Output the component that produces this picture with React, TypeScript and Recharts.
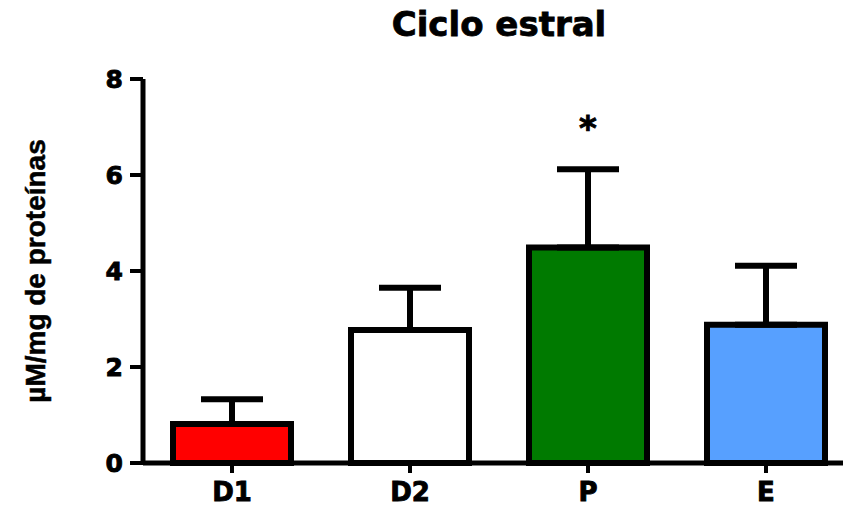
import { BarChart, Bar, XAxis, YAxis, ErrorBar, Cell, ReferenceDot } from 'recharts';

// Values
const phases = ['D1', 'D2', 'P', 'E'];
const means = [0.81, 2.77, 4.49, 2.88];
const sems = [0.52, 0.88, 1.63, 1.23];
const fills = ['#FF0000', '#FFFFFF', '#007A00', '#57A0FF'];
const yTicks = [0, 2, 4, 6, 8];

// significance mark
const starPhase = 'P';
const starLevel = 6.98;

const data = phases.map((name, i) => ({
  name,
  value: means[i],
  err: [0, sems[i]],
}));

const font = '"DejaVu Sans", Verdana, sans-serif';
// a thin outline makes DejaVu look closer to the heavier Verdana Bold
const heavy = { stroke: '#000', strokeWidth: 0.9, paintOrder: 'stroke' as const };

export default function App() {
  return (
    <div
      style={{
        position: 'absolute',
        left: 0,
        top: 0,
        width: 843,
        height: 506,
        overflow: 'hidden',
        background: 'white',
      }}
    >
      <div
        style={{
          position: 'absolute',
          left: 0,
          top: 4,
          width: 998,
          textAlign: 'center',
          fontFamily: font,
          fontWeight: 'bold',
          fontSize: 34,
          color: '#000',
          WebkitTextStroke: '0.8px #000',
        }}
      >
        Ciclo estral
      </div>
      <BarChart
        width={880}
        height={506}
        data={data}
        margin={{ top: 79, right: 25, left: 0, bottom: 0 }}
        barCategoryGap={30}
      >
        <XAxis
          dataKey="name"
          height={43}
          axisLine={{ stroke: '#000', strokeWidth: 5 }}
          tickLine={{ stroke: '#000', strokeWidth: 4 }}
          tickSize={10}
          tickMargin={10}
          tick={{ fill: '#000', fontSize: 26, fontWeight: 'bold', fontFamily: font, ...heavy }}
        />
        <YAxis
          width={143}
          domain={[0, 8]}
          ticks={yTicks}
          interval={0}
          axisLine={{ stroke: '#000', strokeWidth: 5 }}
          tickLine={{ stroke: '#000', strokeWidth: 4 }}
          tickSize={13}
          tickMargin={7}
          tick={{ fill: '#000', fontSize: 25, fontWeight: 'bold', fontFamily: font, ...heavy }}
          label={{
            value: 'µM/mg de proteínas',
            angle: -90,
            position: 'insideLeft',
            offset: 35,
            style: {
              fill: '#000',
              fontSize: 28,
              fontWeight: 'bold',
              fontFamily: '"Liberation Sans", Arial, sans-serif',
              textAnchor: 'middle',
              stroke: '#000',
              strokeWidth: 0.5,
            },
          }}
        />
        <Bar dataKey="value" stroke="#000" strokeWidth={6} isAnimationActive={false}>
          {data.map((d, i) => (
            <Cell key={d.name} fill={fills[i]} />
          ))}
          <ErrorBar dataKey="err" width={31} stroke="#000" strokeWidth={6} direction="y" />
        </Bar>
        <ReferenceDot
          x={starPhase}
          y={starLevel}
          r={0}
          fill="none"
          stroke="none"
          label={{
            value: '*',
            position: 'center',
            style: { fill: '#000', fontSize: 34, fontWeight: 'bold', fontFamily: font, ...heavy },
          }}
        />
      </BarChart>
    </div>
  );
}
